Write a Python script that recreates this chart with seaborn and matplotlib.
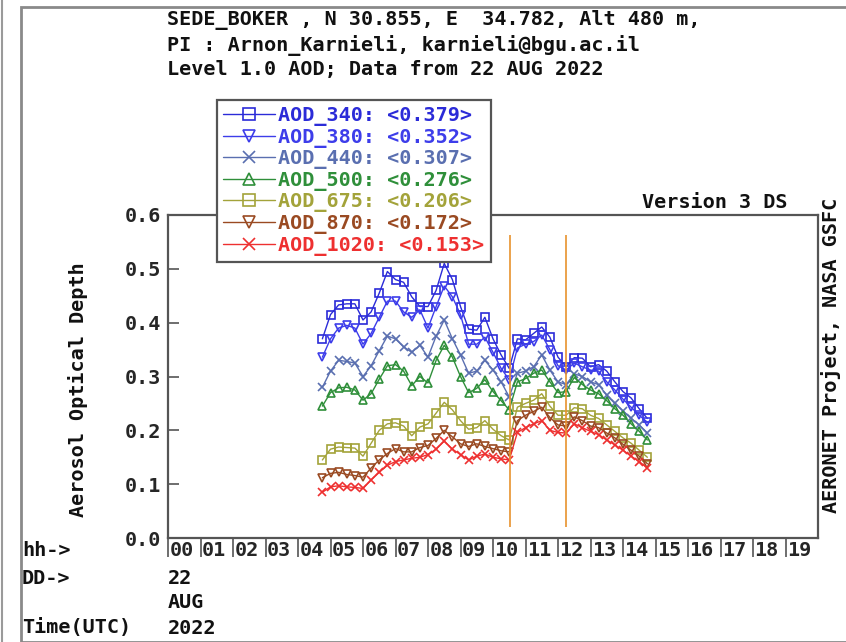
import numpy as np
import pandas as pd
import seaborn as sns
import matplotlib
matplotlib.use("Agg")
import matplotlib.pyplot as plt
from matplotlib.font_manager import FontProperties
import matplotlib.transforms as mtransforms
from matplotlib.patches import Rectangle
from matplotlib.lines import Line2D

# ---------------- data ----------------
hours = [4.75, 5.0, 5.25, 5.5, 5.75, 6.0, 6.25, 6.5, 6.75, 7.0, 7.25, 7.5, 7.75, 8.0,
         8.25, 8.5, 8.75, 9.0, 9.25, 9.5, 9.75, 10.0, 10.25, 10.5, 10.75, 11.0, 11.25,
         11.5, 11.75, 12.0, 12.25, 12.5, 12.75, 13.0, 13.25, 13.5, 13.75, 14.0, 14.25,
         14.5, 14.75]

aod_340 = [0.370, 0.415, 0.433, 0.435, 0.435, 0.405, 0.420, 0.455, 0.495, 0.480, 0.475,
           0.448, 0.430, 0.430, 0.460, 0.510, 0.480, 0.430, 0.388, 0.386, 0.410, 0.370,
           0.340, 0.315, 0.370, 0.368, 0.380, 0.392, 0.373, 0.336, 0.318, 0.335, 0.334,
           0.318, 0.322, 0.310, 0.290, 0.272, 0.260, 0.240, 0.222]
aod_380 = [0.336, 0.370, 0.390, 0.395, 0.390, 0.360, 0.380, 0.410, 0.440, 0.440, 0.420,
           0.410, 0.424, 0.390, 0.430, 0.468, 0.448, 0.415, 0.360, 0.360, 0.373, 0.345,
           0.315, 0.294, 0.353, 0.360, 0.365, 0.377, 0.350, 0.320, 0.312, 0.325, 0.318,
           0.312, 0.310, 0.290, 0.275, 0.258, 0.243, 0.228, 0.215]
aod_440 = [0.280, 0.310, 0.330, 0.328, 0.325, 0.300, 0.320, 0.348, 0.375, 0.370, 0.355,
           0.345, 0.358, 0.336, 0.375, 0.405, 0.370, 0.340, 0.306, 0.310, 0.330, 0.312,
           0.290, 0.262, 0.306, 0.310, 0.318, 0.340, 0.312, 0.290, 0.285, 0.305, 0.300,
           0.290, 0.285, 0.265, 0.250, 0.236, 0.222, 0.210, 0.195]
aod_500 = [0.245, 0.270, 0.279, 0.280, 0.275, 0.256, 0.268, 0.295, 0.320, 0.322, 0.310,
           0.283, 0.300, 0.288, 0.330, 0.358, 0.336, 0.300, 0.270, 0.278, 0.294, 0.272,
           0.255, 0.238, 0.290, 0.296, 0.306, 0.312, 0.290, 0.270, 0.272, 0.298, 0.285,
           0.275, 0.268, 0.255, 0.240, 0.228, 0.212, 0.198, 0.182]
aod_675 = [0.145, 0.165, 0.169, 0.168, 0.167, 0.152, 0.176, 0.200, 0.212, 0.214, 0.208,
           0.190, 0.206, 0.212, 0.232, 0.252, 0.238, 0.218, 0.202, 0.205, 0.218, 0.202,
           0.190, 0.182, 0.243, 0.250, 0.256, 0.268, 0.245, 0.228, 0.228, 0.242, 0.240,
           0.228, 0.222, 0.210, 0.198, 0.186, 0.176, 0.163, 0.150]
aod_870 = [0.112, 0.120, 0.122, 0.118, 0.116, 0.113, 0.130, 0.145, 0.157, 0.166, 0.160,
           0.160, 0.168, 0.172, 0.185, 0.200, 0.188, 0.175, 0.170, 0.175, 0.170, 0.166,
           0.162, 0.160, 0.218, 0.228, 0.235, 0.243, 0.224, 0.210, 0.208, 0.225, 0.218,
           0.208, 0.205, 0.195, 0.186, 0.174, 0.163, 0.152, 0.138]
aod_1020 = [0.085, 0.095, 0.097, 0.095, 0.094, 0.092, 0.108, 0.122, 0.135, 0.142, 0.145,
            0.148, 0.150, 0.155, 0.165, 0.180, 0.165, 0.155, 0.145, 0.152, 0.156, 0.150,
            0.147, 0.145, 0.196, 0.205, 0.212, 0.218, 0.200, 0.196, 0.195, 0.212, 0.205,
            0.198, 0.192, 0.182, 0.173, 0.163, 0.152, 0.142, 0.130]

series_names = ["AOD_340", "AOD_380", "AOD_440", "AOD_500", "AOD_675", "AOD_870", "AOD_1020"]
series_means = ["0.379", "0.352", "0.307", "0.276", "0.206", "0.172", "0.153"]
series_values = [aod_340, aod_380, aod_440, aod_500, aod_675, aod_870, aod_1020]

hour_labels = ["00", "01", "02", "03", "04", "05", "06", "07", "08", "09",
               "10", "11", "12", "13", "14", "15", "16", "17", "18", "19"]
y_ticks = [0.0, 0.1, 0.2, 0.3, 0.4, 0.5, 0.6]
marker_hours = [10.52, 12.25]

header_lines = ["SEDE_BOKER , N 30.855, E  34.782, Alt 480 m,",
                "PI : Arnon_Karnieli, karnieli@bgu.ac.il",
                "Level 1.0 AOD; Data from 22 AUG 2022"]

# ---------------- style ----------------
colors = ["#2b2bd8", "#3d3dea", "#5a6fb0", "#2f8f3a", "#a3a33a", "#9a4a22", "#ee3030"]
markers = ["s", "v", "x", "^", "s", "v", "x"]

sns.set_theme(style="white")
plt.rcParams["font.family"] = ["DejaVu Sans Mono", "DejaVu Sans"]
plt.rcParams["font.weight"] = "bold"
mono = FontProperties(family="DejaVu Sans Mono", weight="bold", size=14.5)
W, H = 846, 642

fig = plt.figure(figsize=(W / 100, H / 100), dpi=100)
fig.patch.set_facecolor("white")

ax_l, ax_r, ax_t, ax_b = 168, 818, 215, 538
ax = fig.add_axes([ax_l / W, 1 - ax_b / H, (ax_r - ax_l) / W, (ax_b - ax_t) / H])
ax.set_facecolor("white")

df_rows = []
for name, vals in zip(series_names, series_values):
    for h, v in zip(hours, vals):
        df_rows.append({"hour": h, "aod": v, "series": name})
df = pd.DataFrame(df_rows)

for name, mean, col, mk in zip(series_names, series_means, colors, markers):
    sub = df[df["series"] == name]
    sns.lineplot(data=sub, x="hour", y="aod", ax=ax, color=col, marker=mk,
                 markersize=6, markerfacecolor="none", markeredgecolor=col,
                 markeredgewidth=1.2, linewidth=1.0, legend=False)

ax.vlines(marker_hours, 0.02, 0.563, colors="#e8922e", linewidth=1.2, zorder=5)

ax.set_xlim(0, 20)
ax.set_ylim(0, 0.6)
ax.set_xlabel("")
ax.set_ylabel("")

for sp in ax.spines.values():
    sp.set_color("#555555")
    sp.set_linewidth(1.6)

ax.set_yticks(y_ticks)
ax.set_yticklabels([f"{v:.1f}" for v in y_ticks], fontproperties=mono)
ax.tick_params(axis="y", direction="in", length=8, width=1.2, color="#555555",
               pad=5, left=True)

ax.set_xticks(np.arange(len(hour_labels)))
ax.set_xticklabels(hour_labels, fontproperties=mono)
ax.tick_params(axis="x", direction="out", length=14, width=1.2, color="#555555",
               pad=-12, bottom=True)
offset = mtransforms.ScaledTranslation(1.5 / 100, 0, fig.dpi_scale_trans)
for lab in ax.get_xticklabels():
    lab.set_horizontalalignment("left")
    lab.set_transform(lab.get_transform() + offset)

# legend
handles = [Line2D([], [], color=c, marker=m, markerfacecolor="none",
                  markeredgecolor=c, markersize=8, markeredgewidth=1.2, linewidth=1.0)
           for c, m in zip(colors, markers)]
labels = [f"{n}: <{m}>" for n, m in zip(series_names, series_means)]
leg = ax.legend(handles, labels, loc="upper left",
                bbox_to_anchor=(217 / W, 1 - 100 / H), bbox_transform=fig.transFigure,
                frameon=True, fancybox=False, edgecolor="#555555", framealpha=1,
                prop=mono, labelspacing=0.08, handlelength=2.6, handletextpad=0.15,
                borderpad=0.3, borderaxespad=0)
leg.get_frame().set_linewidth(1.6)
leg.set_zorder(20)
for t, c in zip(leg.get_texts(), colors):
    t.set_color(c)

# texts
for i, line in enumerate(header_lines):
    fig.text(167 / W, 1 - (20 + 25 * i) / H, line, fontproperties=mono,
             color="#111111", va="center", ha="left")

fig.text(787 / W, 1 - 203 / H, "Version 3 DS", fontproperties=mono,
         color="#111111", va="center", ha="right")
fig.text(78 / W, 1 - 390 / H, "Aerosol Optical Depth", fontproperties=mono,
         color="#111111", va="center", ha="center", rotation=90)
fig.text(831 / W, 1 - 355 / H, "AERONET Project, NASA GSFC", fontproperties=mono,
         color="#111111", va="center", ha="center", rotation=90)

fig.text(22 / W, 1 - 550 / H, "hh->", fontproperties=mono, color="#111111", va="center")
fig.text(22 / W, 1 - 578 / H, "DD->", fontproperties=mono, color="#111111", va="center")
fig.text(22 / W, 1 - 628 / H, "Time(UTC)", fontproperties=mono, color="#111111", va="center")
fig.text(168 / W, 1 - 578 / H, "22", fontproperties=mono, color="#111111", va="center")
fig.text(168 / W, 1 - 603 / H, "AUG", fontproperties=mono, color="#111111", va="center")
fig.text(168 / W, 1 - 628 / H, "2022", fontproperties=mono, color="#111111", va="center")

# outer frame (screenshot border)
fig.add_artist(Rectangle((21 / W, 0.0 / H), (W - 21 + 10) / W, (H - 7) / H,
                         transform=fig.transFigure, fill=False,
                         edgecolor="#8a8a8a", linewidth=2.0))
fig.add_artist(Line2D([2 / W, 2 / W], [0, 1], transform=fig.transFigure,
                      color="#9a9a9a", linewidth=1.5))

fig.savefig("out.png", dpi=100, facecolor="white")
